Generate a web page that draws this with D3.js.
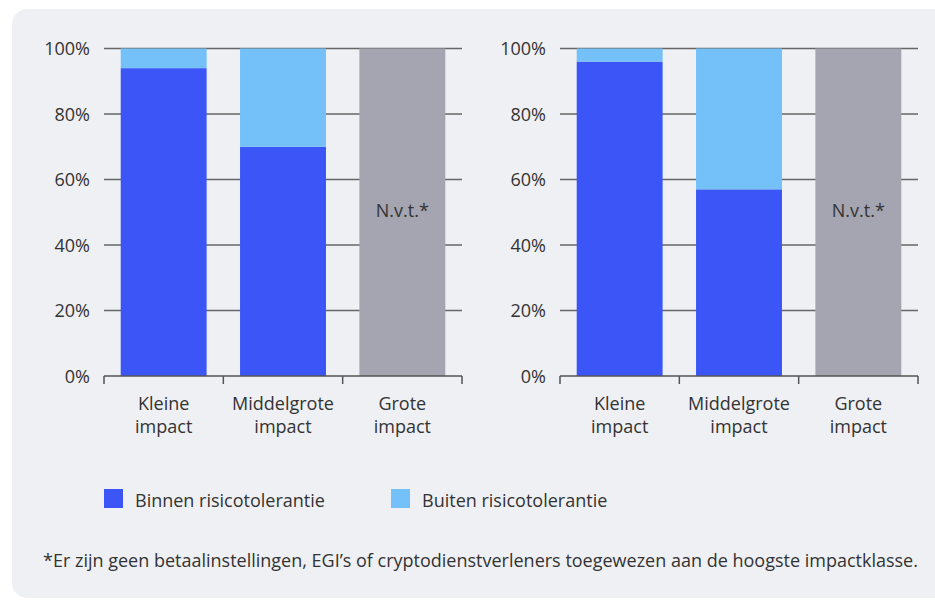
<!DOCTYPE html>
<html><head><meta charset="utf-8">
<script src="https://cdn.jsdelivr.net/npm/d3@7"></script>
<style>body{margin:0;background:#fff;}svg{display:block;font-family:"Open Sans",sans-serif;}</style>
</head><body>
<svg id="c" width="935" height="601"></svg>
<script>
const categories = [["Kleine","impact"],["Middelgrote","impact"],["Grote","impact"]];
const chart1Binnen = [94, 70, null];
const chart1Buiten = [6, 30, null];
const chart2Binnen = [96, 57, null];
const chart2Buiten = [4, 43, null];
const yTicks = [0, 20, 40, 60, 80, 100];
const naLabel = "N.v.t.*";
const legendLabels = ["Binnen risicotolerantie", "Buiten risicotolerantie"];
const footnote = "*Er zijn geen betaalinstellingen, EGI\u2019s of cryptodienstverleners toegewezen aan de hoogste impactklasse.";

const colBinnen = "#3b55f6", colBuiten = "#73c1f8", colNA = "#a4a5b0", txt = "#333";
const FS = 18;
const svg = d3.select("#c");
svg.append("rect").attr("x",12).attr("y",9).attr("width",950).attr("height",589).attr("rx",15).attr("fill","#eff0f4");

function drawChart(x0, binnen, buiten) {
  const g = svg.append("g");
  const x = d3.scaleBand().domain(d3.range(categories.length)).range([x0, x0+358]).paddingInner(0.28).paddingOuter(0.14);
  const y = d3.scaleLinear().domain([0,100]).range([376, 48.5]);
  g.selectAll(".grid").data(yTicks.filter(t=>t>0)).enter().append("line")
    .attr("x1", x0).attr("x2", x0+358).attr("y1", d=>y(d)).attr("y2", d=>y(d))
    .attr("stroke","#666").attr("stroke-width",1.3);
  g.selectAll(".yl").data(yTicks).enter().append("text")
    .attr("x", x0-14).attr("y", d=>y(d)+6.5).attr("text-anchor","end")
    .attr("font-size",FS).attr("fill",txt).text(d=>d+"%");
  categories.forEach((c,i)=>{
    if (binnen[i] === null) {
      g.append("rect").attr("x", x(i)).attr("width", x.bandwidth()).attr("y", y(100)).attr("height", y(0)-y(100)).attr("fill", colNA);
      g.append("text").attr("x", x(i)+x.bandwidth()/2).attr("y", y(50)+5).attr("text-anchor","middle")
        .attr("font-size",FS).attr("fill",txt).text(naLabel);
    } else {
      g.append("rect").attr("x", x(i)).attr("width", x.bandwidth()).attr("y", y(binnen[i])).attr("height", y(0)-y(binnen[i])).attr("fill", colBinnen);
      g.append("rect").attr("x", x(i)).attr("width", x.bandwidth()).attr("y", y(binnen[i]+buiten[i])).attr("height", y(binnen[i])-y(binnen[i]+buiten[i])).attr("fill", colBuiten);
    }
    const t = g.append("text").attr("text-anchor","middle").attr("font-size",FS).attr("fill",txt);
    c.forEach((line,k)=>t.append("tspan").attr("x", x(i)+x.bandwidth()/2).attr("y", 410+k*23).text(line));
  });
  const step = 358/categories.length;
  g.append("line").attr("x1",x0).attr("x2",x0+358).attr("y1",376).attr("y2",376).attr("stroke","#555").attr("stroke-width",1.5);
  d3.range(categories.length+1).forEach(k=>{
    g.append("line").attr("x1",x0+k*step).attr("x2",x0+k*step).attr("y1",376).attr("y2",384).attr("stroke","#555").attr("stroke-width",1.5);
  });
}
drawChart(104, chart1Binnen, chart1Buiten);
drawChart(560, chart2Binnen, chart2Buiten);

const legX = [104, 391];
legendLabels.forEach((l,i)=>{
  svg.append("rect").attr("x",legX[i]).attr("y",489).attr("width",19).attr("height",19).attr("fill", i===0?colBinnen:colBuiten);
  svg.append("text").attr("x",legX[i]+31).attr("y",507).attr("font-size",FS).attr("fill",txt).text(l);
});
svg.append("text").attr("x",43).attr("y",567).attr("font-size",FS).attr("fill",txt).text(footnote);
</script>
</body></html>
